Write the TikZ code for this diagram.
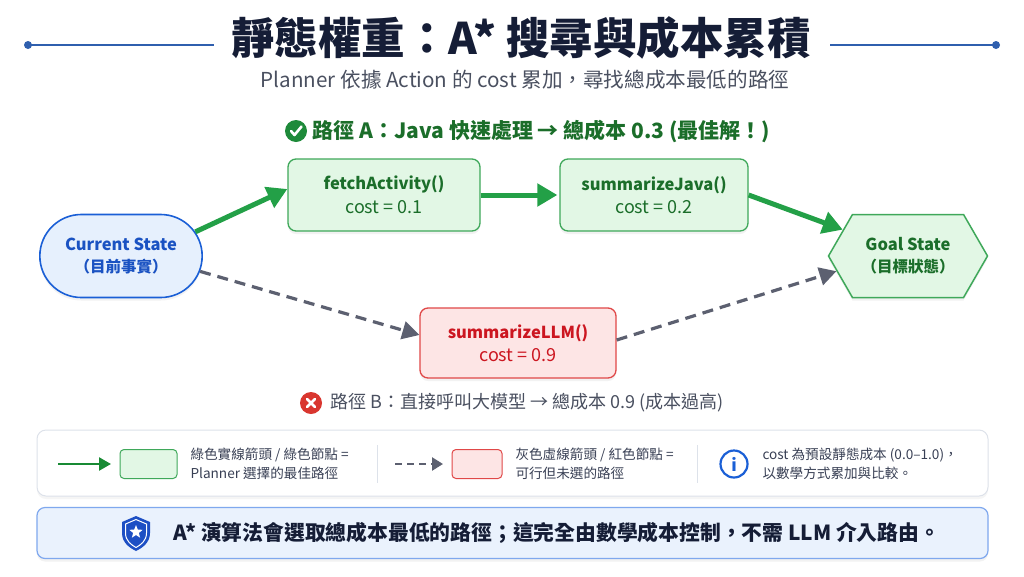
\documentclass[tikz,border=0pt]{standalone}
\usepackage{fontspec}
\setmainfont{Noto Sans CJK TC}
\usetikzlibrary{arrows.meta,shapes.geometric,shapes.misc,shapes.symbols,shadows}
\definecolor{navy}{HTML}{151D36}
\definecolor{lineblue}{HTML}{2F5FAE}
\definecolor{subgray}{HTML}{4A5060}
\definecolor{gtext}{HTML}{1B6E2A}
\definecolor{gborder}{HTML}{3FA85A}
\definecolor{gfill}{HTML}{E2F7E5}
\definecolor{garrow}{HTML}{23A047}
\definecolor{gicon}{HTML}{1E8A3A}
\definecolor{bborder}{HTML}{1A5FD6}
\definecolor{bfill}{HTML}{E6F0FD}
\definecolor{btext}{HTML}{1A52C2}
\definecolor{rborder}{HTML}{E04848}
\definecolor{rfill}{HTML}{FDE5E5}
\definecolor{rtext}{HTML}{CC1620}
\definecolor{ricon}{HTML}{D9362F}
\definecolor{dgray}{HTML}{5C6070}
\definecolor{legborder}{HTML}{DDE2EA}
\definecolor{banfill}{HTML}{EAF2FD}
\definecolor{banborder}{HTML}{7FA8EE}
\definecolor{shieldblue}{HTML}{1D4FC4}
\definecolor{legarrow}{HTML}{188A34}
\tikzset{
  softshadow/.style={drop shadow={opacity=0.10,shadow xshift=0pt,shadow yshift=-3pt}},
  greenbox/.style={draw=gborder,fill=gfill,line width=1.3pt,rounded corners=8pt,
    minimum width=192pt,minimum height=72pt,align=center,text=gtext,softshadow},
  redbox/.style={draw=rborder,fill=rfill,line width=1.3pt,rounded corners=8pt,
    minimum width=196pt,minimum height=70pt,align=center,text=rtext,softshadow},
  bestarrow/.style={draw=garrow,line width=5pt,-{Triangle[length=20pt,width=22pt]}},
  altarrow/.style={draw=dgray,line width=3.2pt,dash pattern=on 11pt off 7pt,-{Triangle[length=17pt,width=18pt]}},
  legtext/.style={font=\fontsize{13.6}{19}\selectfont,text=navy!85,align=left,anchor=west},
}
\newcommand{\nmfont}{\bfseries\fontsize{16.5}{21}\selectfont}
\newcommand{\cstfont}{\fontsize{18}{21}\selectfont}
\begin{document}
\begin{tikzpicture}[x=1pt,y=-1pt]
\useasboundingbox[fill=white] (0,0) rectangle (1024,576);

% title
\node[text=navy,font=\bfseries\fontsize{43.5}{50}\selectfont] (title) at (521,38) {靜態權重：A* 搜尋與成本累積};
\coordinate (ll) at (28,45); \coordinate (lr) at (214,45);
\coordinate (rl) at (830,45); \coordinate (rr) at (996,45);
\draw[lineblue,line width=1.6pt] (ll) -- (lr);
\draw[lineblue,line width=1.6pt] (rl) -- (rr);
\fill[lineblue] (ll) circle (4pt);
\fill[lineblue] (rr) circle (4pt);
\node[text=subgray,font=\fontsize{20.6}{26}\selectfont] (sub) at (525,80) {Planner 依據 Action 的 cost 累加，尋找總成本最低的路徑};

% path A label
\node[text=gtext,font=\bfseries\fontsize{21}{26}\selectfont,anchor=west] (pathA) at (309,131) {路徑 A：Java 快速處理 → 總成本 0.3 (最佳解！)};
\node[circle,fill=gicon,minimum size=22pt,inner sep=0pt] (chk) at (296,131) {};
\draw[white,line width=2.6pt,line cap=round,line join=round] ([shift={(-5pt,0pt)}]chk.center) -- ([shift={(-1.5pt,-4pt)}]chk.center) -- ([shift={(5.5pt,4.5pt)}]chk.center);

% nodes
\node[rounded rectangle,draw=bborder,fill=bfill,line width=1.6pt,minimum width=169pt,minimum height=83pt,
  align=center,text=btext,softshadow] (cur) at (121,256)
  {{\nmfont Current State}\\[7pt]{\bfseries\fontsize{15.5}{20}\selectfont （目前事實）}};
\node[greenbox] (fetch) at (384,195) {{\nmfont fetchActivity()}\\[6pt]{\cstfont cost = 0.1}};
\node[greenbox,minimum width=188pt] (java) at (654,195) {{\nmfont summarizeJava()}\\[6pt]{\cstfont cost = 0.2}};
\node[signal,signal to=east and west,signal pointer angle=120,draw=gborder,fill=gfill,line width=1.5pt,
  minimum width=159pt,minimum height=83pt,inner sep=0pt,align=center,text=gtext,softshadow] (goal) at (908,256)
  {{\nmfont Goal State}\\[7pt]{\bfseries\fontsize{15.5}{20}\selectfont （目標狀態）}};
\node[redbox] (llm) at (518,343) {{\nmfont summarizeLLM()}\\[6pt]{\cstfont cost = 0.9}};

% arrows
\draw[bestarrow] (cur.18) -- ([yshift=6pt]fetch.west);
\draw[bestarrow] (fetch.east) -- ([xshift=-2pt]java.west);
\draw[bestarrow] (java.east) -- (goal.158);
\draw[altarrow] (cur.-11) -- ([yshift=8pt]llm.west);
\draw[altarrow] ([yshift=3pt]llm.east) -- (goal.-168);

% path B label
\node[text=subgray,font=\fontsize{18}{23}\selectfont,anchor=west] (pathB) at (327,403) {路徑 B：直接呼叫大模型 → 總成本 0.9 (成本過高)};
\node[circle,fill=ricon,minimum size=22pt,inner sep=0pt] (xic) at (311,403) {};
\draw[white,line width=2.6pt,line cap=round] ([shift={(-4pt,-4pt)}]xic.center) -- ([shift={(4pt,4pt)}]xic.center);
\draw[white,line width=2.6pt,line cap=round] ([shift={(-4pt,4pt)}]xic.center) -- ([shift={(4pt,-4pt)}]xic.center);

% legend
\node[draw=legborder,fill=white,line width=1pt,rounded corners=9pt,minimum width=951pt,minimum height=66pt,
  drop shadow={opacity=0.08,shadow xshift=0pt,shadow yshift=-3pt}] (leg) at (512.5,463) {};
\coordinate (ga1) at (58,464); \coordinate (ga2) at (111,464);
\draw[draw=legarrow,line width=2.4pt,-{Triangle[length=12pt,width=13pt]}] (ga1) -- (ga2);
\node[draw=gborder,fill=gfill,line width=1pt,rounded corners=4pt,minimum width=57pt,minimum height=29pt] (lg) at (148.5,464) {};
\node[legtext] (lgt) at (187,464) {綠色實線箭頭 / 綠色節點 =\\Planner 選擇的最佳路徑};
\coordinate (s1a) at (377,445); \coordinate (s1b) at (377,483);
\draw[legborder,line width=1pt] (s1a) -- (s1b);
\coordinate (da1) at (395,464); \coordinate (da2) at (443,464);
\draw[draw=dgray,line width=2.4pt,dash pattern=on 7pt off 5pt,-{Triangle[length=11pt,width=13pt]}] (da1) -- (da2);
\node[draw=rborder,fill=rfill,line width=1pt,rounded corners=4pt,minimum width=50pt,minimum height=29pt] (lr) at (477,464) {};
\node[legtext] (lrt) at (512,464) {灰色虛線箭頭 / 紅色節點 =\\可行但未選的路徑};
\coordinate (s2a) at (697,445); \coordinate (s2b) at (697,483);
\draw[legborder,line width=1pt] (s2a) -- (s2b);
\node[circle,draw=bborder,line width=2.2pt,minimum size=27pt,inner sep=0pt,text=bborder,
  font=\bfseries\fontsize{17}{17}\selectfont] (info) at (734,464) {i};
\node[legtext] (it) at (759,464) {cost 為預設靜態成本 (0.0–1.0)，\\以數學方式累加與比較。};

% banner
\node[draw=banborder,fill=banfill,line width=1.2pt,rounded corners=8pt,minimum width=951pt,minimum height=51pt,
  drop shadow={opacity=0.10,shadow xshift=0pt,shadow yshift=-3pt}] (ban) at (512.5,533) {};
\coordinate (sh) at (136,533);
\fill[shieldblue] ([shift={(0pt,17pt)}]sh) -- ([shift={(14pt,11pt)}]sh) -- ([shift={(14pt,0pt)}]sh)
  .. controls ([shift={(14pt,-10pt)}]sh) and ([shift={(6pt,-15pt)}]sh) .. ([shift={(0pt,-18pt)}]sh)
  .. controls ([shift={(-6pt,-15pt)}]sh) and ([shift={(-14pt,-10pt)}]sh) .. ([shift={(-14pt,0pt)}]sh)
  -- ([shift={(-14pt,11pt)}]sh) -- cycle;
\draw[white,line width=1pt] ([shift={(0pt,13.5pt)}]sh) -- ([shift={(10.5pt,9pt)}]sh) -- ([shift={(10.5pt,0pt)}]sh)
  .. controls ([shift={(10.5pt,-8pt)}]sh) and ([shift={(4.5pt,-12pt)}]sh) .. ([shift={(0pt,-14.5pt)}]sh)
  .. controls ([shift={(-4.5pt,-12pt)}]sh) and ([shift={(-10.5pt,-8pt)}]sh) .. ([shift={(-10.5pt,0pt)}]sh)
  -- ([shift={(-10.5pt,9pt)}]sh) -- cycle;
\node[star,star points=5,star point ratio=2.3,fill=white,minimum size=14pt,inner sep=0pt] (st) at (136,532) {};
\node[text=navy,font=\bfseries\fontsize{20.8}{24}\selectfont,anchor=west] (bant) at (170,533) {A* 演算法會選取總成本最低的路徑；這完全由數學成本控制，不需 LLM 介入路由。};
\end{tikzpicture}
\end{document}
